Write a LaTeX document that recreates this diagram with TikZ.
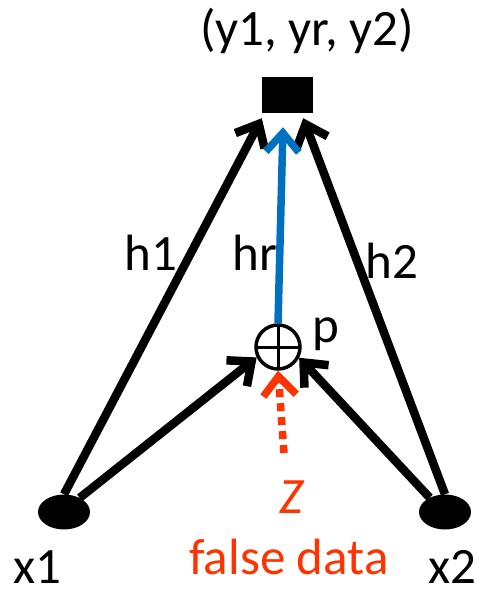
\documentclass[tikz,border=0pt]{standalone}
\usepackage{fontspec}
\setmainfont{Carlito}
\usetikzlibrary{arrows.meta,shapes.geometric,positioning}
\definecolor{hblue}{RGB}{0,112,192}
\definecolor{zred}{RGB}{255,51,0}

\begin{document}
\begin{tikzpicture}[x=1pt,y=-1pt,font=\fontsize{51}{60}\selectfont,inner sep=2pt,
  link/.style={line width=8.5pt,-{Straight Barb[length=19pt,width=33pt]}},
  obs/.style={ellipse,fill=black,minimum width=52pt,minimum height=35pt,inner sep=0pt}]
  \useasboundingbox (0,0) rectangle (477,598);
  % ---------- output and inputs
  \node[fill=black,minimum width=51pt,minimum height=36pt,inner sep=0pt] (y) at (287.5,95) {};
  \node (ylab) at (307,31) {(y1, yr, y2)};
  \node[obs] (x1) at (64,512) {};
  \node[obs] (x2) at (445,512) {};
  \node (x1lab) at (37,567) {x1};
  \node (x2lab) at (452,567) {x2};
  % ---------- combination node
  \node[circle,draw,line width=3.5pt,minimum size=44pt,inner sep=0pt,
    path picture={\draw[line width=3pt] ([xshift=-20pt]path picture bounding box.center) -- ([xshift=20pt]path picture bounding box.center);
      \draw[line width=3pt] ([yshift=-21pt]path picture bounding box.center) -- ([yshift=21pt]path picture bounding box.center);}]
    (sum) at (278,347) {};
  \node (plab) at (326,334) {p};
  \node[zred] (zlab) at (292,497) {\textit{Z}};
  \node[zred] (flab) at (289,557) {false data};
  \coordinate (zsrc) at (284,453);
  % ---------- links
  \draw[link] (x1.north) -- ([yshift=-5pt]y.south west);
  \draw[link] (x2.north) -- ([xshift=-10pt,yshift=-5pt]y.south east);
  \draw[link] (x1.42) -- (sum.206);
  \draw[link] (x2.137) -- (sum.-27);
  \draw[link,hblue,line width=7.5pt] (sum.north) -- ([xshift=-4.5pt,yshift=-14pt]y.south);
  \draw[link,zred,line width=7.5pt,dash pattern=on 8pt off 6pt] (zsrc) -- (sum.south);
  \node (h1) at (151,253) {h1};
  \node (hr) at (255,253) {hr};
  \node (h2) at (392,261) {h2};
\end{tikzpicture}
\end{document}
